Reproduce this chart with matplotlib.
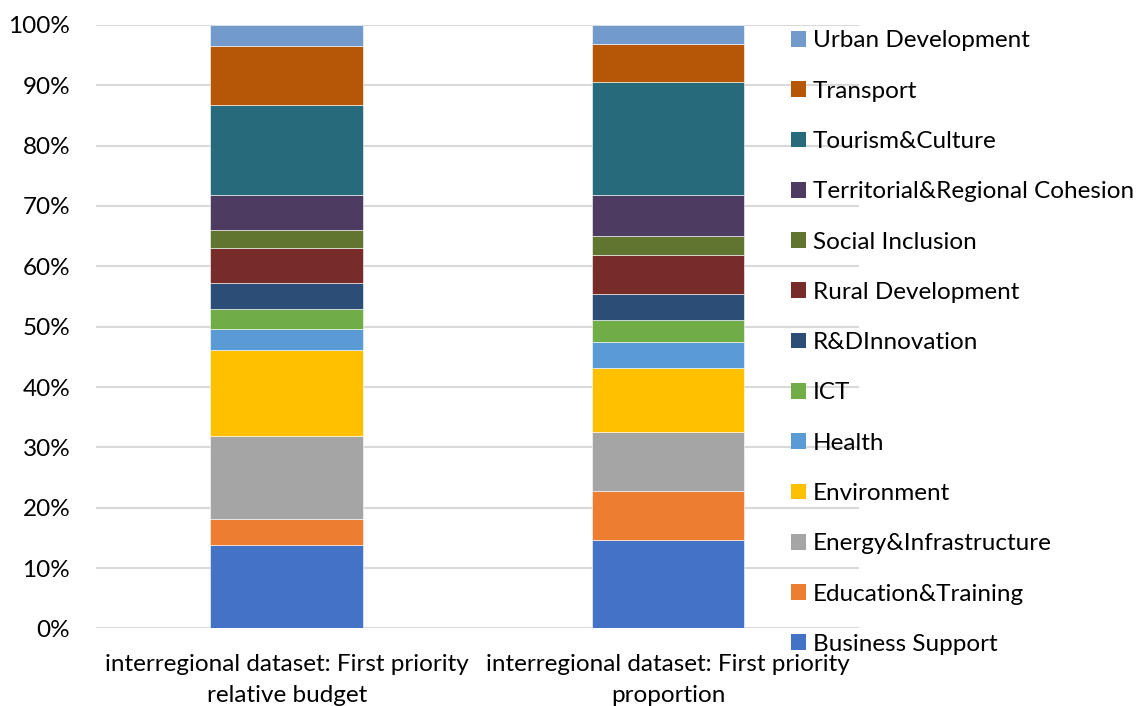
import numpy as np
import matplotlib.pyplot as plt
from matplotlib.patches import Patch

plt.rcParams['font.family'] = ['Lato', 'DejaVu Sans']

# bar labels (x axis)
bars = ['interregional dataset: First priority\nrelative budget',
        'interregional dataset: First priority\nproportion']

# categories, bottom to top
categories = ['Business Support', 'Education&Training', 'Energy&Infrastructure',
              'Environment', 'Health', 'ICT', 'R&DInnovation', 'Rural Development',
              'Social Inclusion', 'Territorial&Regional Cohesion', 'Tourism&Culture',
              'Transport', 'Urban Development']

# shares in % for each bar
relative_budget = [13.8, 4.4, 13.6, 14.4, 3.4, 3.4, 4.2, 5.8, 3.0, 5.9, 14.8, 9.9, 3.4]
proportion = [14.7, 8.0, 9.9, 10.6, 4.2, 3.65, 4.35, 6.4, 3.2, 6.8, 18.7, 6.35, 3.15]

colors = ['#4472C4', '#ED7D31', '#A5A5A5', '#FFC000', '#5B9BD5', '#70AD47',
          '#2C4D75', '#772C2A', '#5F7530', '#4D3B62', '#276A7C', '#B65708', '#729ACA']

fig = plt.figure(figsize=(11.41, 7.06), dpi=100)
ax = fig.add_axes([0.0841, 0.110, 0.6687, 0.8546])

x = np.arange(len(bars))
bottom = np.zeros(len(bars))
data = np.array([relative_budget, proportion]).T
for i, cat in enumerate(categories):
    ax.bar(x, data[i], bottom=bottom, width=0.40, color=colors[i],
           edgecolor='white', linewidth=0.4, zorder=3)
    bottom += data[i]

ax.set_xlim(-0.5, 1.5)
ax.set_ylim(0, 100)
ax.set_yticks(np.arange(0, 101, 10))
ax.set_yticklabels([f'{v}%' for v in range(0, 101, 10)])
ax.set_xticks(x)
ax.set_xticklabels(bars, linespacing=1.6)
ax.grid(axis='y', color='#D9D9D9', linewidth=1.5, zorder=0)
for s in ax.spines.values():
    s.set_visible(False)
ax.tick_params(length=0, labelsize=17.5, colors='#000000')
ax.tick_params(axis='y', pad=18.5)
ax.tick_params(axis='x', pad=18.5)

handles = [Patch(facecolor=colors[i], edgecolor='none', label=categories[i])
           for i in range(len(categories))][::-1]
fig.legend(handles=handles, loc='upper left', bbox_to_anchor=(0.693, 0.957),
           frameon=False, fontsize=17.5, handlelength=0.62, handleheight=0.62,
           handletextpad=0.29, labelspacing=1.205, borderpad=0, borderaxespad=0)

fig.savefig('out.png', dpi=100)
